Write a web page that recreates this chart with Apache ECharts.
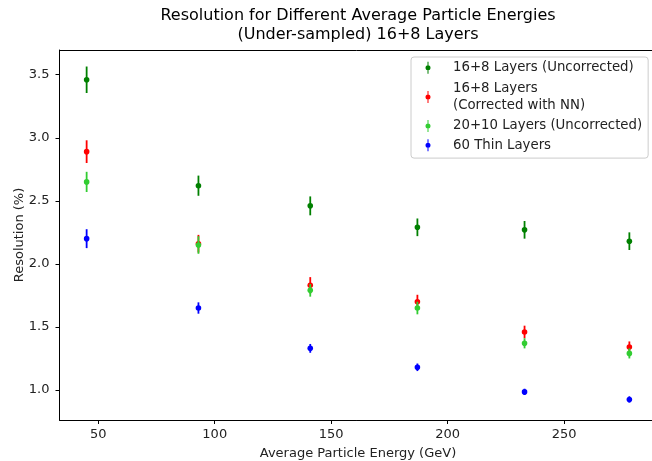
<!DOCTYPE html>
<html>
<head>
<meta charset="utf-8">
<script src="https://cdn.jsdelivr.net/npm/echarts@6/dist/echarts.min.js"></script>
<style>
  html, body { margin: 0; padding: 0; background: #fff; }
  #main { width: 652px; height: 461px; }
</style>
</head>
<body>
<div id="main"></div>
<script>
// average particle energy (GeV)
var energies = [45, 93, 141, 187, 233, 278];

// resolution (%) and error per layer setup
var uncorr16 = [3.46, 2.62, 2.46, 2.29, 2.27, 2.18];
var uncorr16Err = [0.105, 0.08, 0.075, 0.07, 0.07, 0.07];
var nn16 = [2.89, 2.16, 1.83, 1.70, 1.46, 1.34];
var nn16Err = [0.09, 0.07, 0.065, 0.055, 0.05, 0.045];
var uncorr20 = [2.65, 2.15, 1.79, 1.65, 1.37, 1.29];
var uncorr20Err = [0.08, 0.07, 0.05, 0.05, 0.04, 0.04];
var thin60 = [2.20, 1.65, 1.33, 1.18, 0.985, 0.925];
var thin60Err = [0.075, 0.045, 0.035, 0.03, 0.025, 0.025];

var xTicks = [50, 100, 150, 200, 250];
var yTicks = [1.0, 1.5, 2.0, 2.5, 3.0, 3.5];

var FONT = 'DejaVu Sans';

var seriesNames = [
  '16+8 Layers (Uncorrected)',
  '16+8 Layers (Corrected with NN)',
  '20+10 Layers (Uncorrected)',
  '60 Thin Layers'
];

var legendLabels = {
  '16+8 Layers (Uncorrected)': '16+8 Layers (Uncorrected)',
  '16+8 Layers (Corrected with NN)': '16+8 Layers\n(Corrected with NN)',
  '20+10 Layers (Uncorrected)': '20+10 Layers (Uncorrected)',
  '60 Thin Layers': '60 Thin Layers'
};

// errorbar marker for the legend; the box is 31x12 so the label sits further right
// (tiny specks at the corners just fix the bounding box)
var barIcon = 'path://M10.5,0 h1 v4 h-1 z M10.5,8 h1 v4 h-1 z ' +
  'M8.5,6 A2.5,2.5 0 1 1 13.5,6 A2.5,2.5 0 1 1 8.5,6 z ' +
  'M0,0 h0.01 v0.01 h-0.01 z M30.99,11.99 h0.01 v0.01 h-0.01 z';

function makeData(ys, errs) {
  var data = [];
  for (var i = 0; i < energies.length; ++i) {
    data.push([energies[i], ys[i], errs[i]]);
  }
  return data;
}

function errorSeries(name, color, ys, errs) {
  return {
    type: 'custom',
    name: name,
    color: color,
    data: makeData(ys, errs),
    encode: {x: 0, y: 1},
    renderItem: function(params, api) {
      var x = api.value(0);
      var y = api.value(1);
      var e = api.value(2);
      var top = api.coord([x, y + e]);
      var bot = api.coord([x, y - e]);
      var mid = api.coord([x, y]);
      return {
        type: 'group',
        children: [{
          type: 'line',
          shape: {x1: top[0], y1: top[1], x2: bot[0], y2: bot[1]},
          style: {stroke: color, lineWidth: 1.8}
        }, {
          type: 'circle',
          shape: {cx: mid[0], cy: mid[1], r: 2.8},
          style: {fill: color}
        }]
      };
    }
  };
}

var legendData = seriesNames.map(function(name) {
  var item = {name: name};
  if (legendLabels[name].indexOf('\n') >= 0) {
    // two-line entry gets a bit more room, like matplotlib does
    item.textStyle = {lineHeight: 17.6};
  }
  return item;
});

var chart = echarts.init(document.getElementById('main'));

chart.setOption({
  animation: false,
  backgroundColor: '#fff',
  textStyle: {fontFamily: FONT},
  title: {
    text: 'Resolution for Different Average Particle Energies\n(Under-sampled) 16+8 Layers',
    left: 358,
    top: 6.5,
    padding: 0,
    textAlign: 'center',
    textStyle: {
      fontFamily: FONT,
      fontSize: 16,
      fontWeight: 'normal',
      color: '#000',
      lineHeight: 19
    }
  },
  legend: {
    orient: 'vertical',
    left: 411,
    top: 57,
    padding: [3, 6, 5, 6],
    itemGap: 3.7,
    itemWidth: 31,
    itemHeight: 12,
    icon: barIcon,
    data: legendData,
    borderColor: '#cccccc',
    borderWidth: 1,
    borderRadius: 3,
    backgroundColor: 'rgba(255,255,255,0.8)',
    formatter: function(name) {
      return legendLabels[name];
    },
    textStyle: {
      fontFamily: FONT,
      fontSize: 13.3,
      color: '#222',
      lineHeight: 15.6
    }
  },
  grid: {
    left: 59.5,
    top: 50,
    width: 597,
    height: 370,
    outerBoundsMode: 'none'
  },
  xAxis: {
    type: 'value',
    min: 33.35,
    max: 289.65,
    name: 'Average Particle Energy (GeV)',
    nameLocation: 'middle',
    nameGap: 27,
    nameMoveOverlap: false,
    nameTextStyle: {fontFamily: FONT, fontSize: 13, color: '#222'},
    axisLine: {show: true, lineStyle: {color: '#000', width: 1}},
    axisTick: {show: true, length: 4, customValues: xTicks, lineStyle: {color: '#000'}},
    axisLabel: {
      customValues: xTicks,
      margin: 8,
      fontFamily: FONT,
      fontSize: 13,
      color: '#222'
    },
    splitLine: {show: false}
  },
  yAxis: {
    type: 'value',
    min: 0.762,
    max: 3.696,
    name: 'Resolution (%)',
    nameLocation: 'middle',
    nameGap: 33,
    nameMoveOverlap: false,
    nameTextStyle: {fontFamily: FONT, fontSize: 13, color: '#222'},
    axisLine: {show: true, lineStyle: {color: '#000', width: 1}},
    axisTick: {show: true, length: 4, customValues: yTicks, lineStyle: {color: '#000'}},
    axisLabel: {
      customValues: yTicks,
      margin: 10,
      fontFamily: FONT,
      fontSize: 13,
      color: '#222',
      formatter: function(v) { return v.toFixed(1); }
    },
    splitLine: {show: false}
  },
  series: [
    errorSeries(seriesNames[0], '#008000', uncorr16, uncorr16Err),
    errorSeries(seriesNames[1], '#ff0000', nn16, nn16Err),
    errorSeries(seriesNames[2], '#32cd32', uncorr20, uncorr20Err),
    errorSeries(seriesNames[3], '#0000ff', thin60, thin60Err)
  ],
  graphic: [{
    // top frame line of the axes box
    type: 'line',
    shape: {x1: 59.5, y1: 50.5, x2: 656.5, y2: 50.5},
    style: {stroke: '#000', lineWidth: 1},
    silent: true
  }]
});
</script>
</body>
</html>
